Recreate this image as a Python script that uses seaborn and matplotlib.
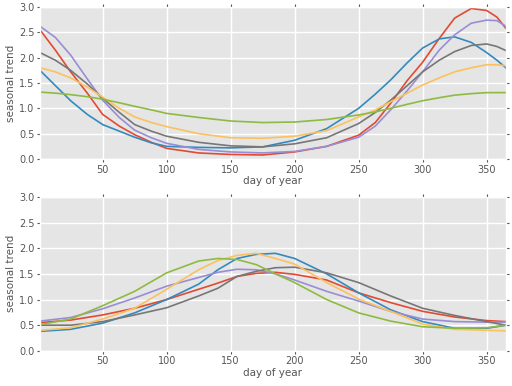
import pandas as pd
import matplotlib
matplotlib.use("Agg")
import matplotlib.pyplot as plt
import seaborn as sns

# ggplot look
plt.style.use("ggplot")

colors = ["#E24A33", "#348ABD", "#988ED5", "#777777", "#FBC15E", "#8EBA42"]
names = ["red", "blue", "purple", "gray", "yellow", "green"]

# top panel
days_top = [1, 13, 25, 38, 50, 63, 75, 88, 100, 125, 150, 175, 200, 225,
            250, 263, 275, 288, 300, 313, 325, 338, 350, 358, 365]
red_top = [2.55, 2.15, 1.72, 1.3, 0.88, 0.65, 0.48, 0.33, 0.21, 0.12, 0.09, 0.08, 0.14, 0.25,
           0.47, 0.72, 1.1, 1.55, 1.91, 2.38, 2.78, 2.97, 2.93, 2.8, 2.58]
blue_top = [1.75, 1.45, 1.15, 0.88, 0.68, 0.55, 0.43, 0.32, 0.25, 0.23, 0.22, 0.24, 0.37, 0.6,
            1.0, 1.28, 1.56, 1.9, 2.19, 2.37, 2.41, 2.3, 2.1, 1.95, 1.8]
purple_top = [2.62, 2.4, 2.05, 1.58, 1.16, 0.82, 0.57, 0.42, 0.31, 0.19, 0.14, 0.12, 0.15, 0.25,
              0.43, 0.65, 0.97, 1.35, 1.72, 2.15, 2.45, 2.68, 2.74, 2.73, 2.62]
gray_top = [2.1, 1.95, 1.75, 1.48, 1.2, 0.92, 0.68, 0.55, 0.45, 0.33, 0.26, 0.24, 0.3, 0.42,
            0.7, 0.92, 1.16, 1.45, 1.72, 1.95, 2.12, 2.24, 2.27, 2.22, 2.14]
yellow_top = [1.8, 1.72, 1.6, 1.42, 1.22, 1.0, 0.83, 0.72, 0.64, 0.5, 0.42, 0.41, 0.45, 0.56,
              0.83, 0.97, 1.13, 1.3, 1.46, 1.6, 1.72, 1.8, 1.86, 1.86, 1.84]
green_top = [1.32, 1.3, 1.27, 1.23, 1.18, 1.11, 1.04, 0.97, 0.9, 0.82, 0.75, 0.72, 0.73, 0.78,
             0.87, 0.93, 1.0, 1.08, 1.15, 1.21, 1.26, 1.29, 1.31, 1.31, 1.31]

# bottom panel
days_bot = [1, 25, 50, 75, 100, 125, 140, 155, 170, 185, 200, 225, 250, 275, 300, 325, 350, 365]
red_bot = [0.55, 0.6, 0.7, 0.83, 1.0, 1.2, 1.32, 1.45, 1.51, 1.53, 1.49, 1.38, 1.13, 0.94,
           0.77, 0.66, 0.59, 0.57]
blue_bot = [0.38, 0.42, 0.54, 0.74, 1.0, 1.3, 1.58, 1.8, 1.88, 1.9, 1.8, 1.5, 1.13, 0.8,
            0.57, 0.44, 0.44, 0.5]
purple_bot = [0.58, 0.65, 0.82, 1.03, 1.26, 1.43, 1.53, 1.59, 1.58, 1.5, 1.38, 1.16, 0.97, 0.77,
              0.62, 0.57, 0.56, 0.56]
gray_bot = [0.5, 0.5, 0.57, 0.7, 0.84, 1.07, 1.22, 1.45, 1.55, 1.62, 1.63, 1.52, 1.33, 1.07,
            0.83, 0.69, 0.57, 0.5]
yellow_bot = [0.4, 0.45, 0.62, 0.83, 1.2, 1.58, 1.76, 1.86, 1.9, 1.8, 1.69, 1.33, 1.01, 0.77,
              0.52, 0.42, 0.4, 0.39]
green_bot = [0.51, 0.62, 0.88, 1.16, 1.52, 1.75, 1.8, 1.78, 1.68, 1.5, 1.33, 1.0, 0.74, 0.58,
             0.47, 0.44, 0.45, 0.5]

top_series = [red_top, blue_top, purple_top, gray_top, yellow_top, green_top]
bot_series = [red_bot, blue_bot, purple_bot, gray_bot, yellow_bot, green_bot]


def to_long(days, series):
    rows = []
    for name, vals in zip(names, series):
        for d, v in zip(days, vals):
            rows.append({"day": d, "trend": v, "series": name})
    return pd.DataFrame(rows)


df_top = to_long(days_top, top_series)
df_bot = to_long(days_bot, bot_series)

fig = plt.figure(figsize=(5.12, 3.86), dpi=100)
ax1 = fig.add_axes([0.078, 0.588, 0.910, 0.394])
ax2 = fig.add_axes([0.078, 0.091, 0.910, 0.399])

for ax, df in [(ax1, df_top), (ax2, df_bot)]:
    sns.lineplot(data=df, x="day", y="trend", hue="series", hue_order=names,
                 palette=colors, linewidth=1.2, legend=False, ax=ax)
    ax.set_xlim(1, 365)
    ax.set_ylim(0, 3.0)
    ax.set_xticks([50, 100, 150, 200, 250, 300, 350])
    ax.set_yticks([0.0, 0.5, 1.0, 1.5, 2.0, 2.5, 3.0])
    ax.set_yticklabels(["0.0", "0.5", "1.0", "1.5", "2.0", "2.5", "3.0"])
    ax.set_xlabel("day of year", fontsize=7.5, color="#555555", labelpad=1)
    ax.set_ylabel("seasonal trend", fontsize=7.5, color="#555555", labelpad=2)
    ax.tick_params(labelsize=7, colors="#555555", length=2, top=True, right=True,
                   direction="out", pad=2)
    ax.grid(True, color="white", linewidth=1)

fig.savefig("out.png", dpi=100)
